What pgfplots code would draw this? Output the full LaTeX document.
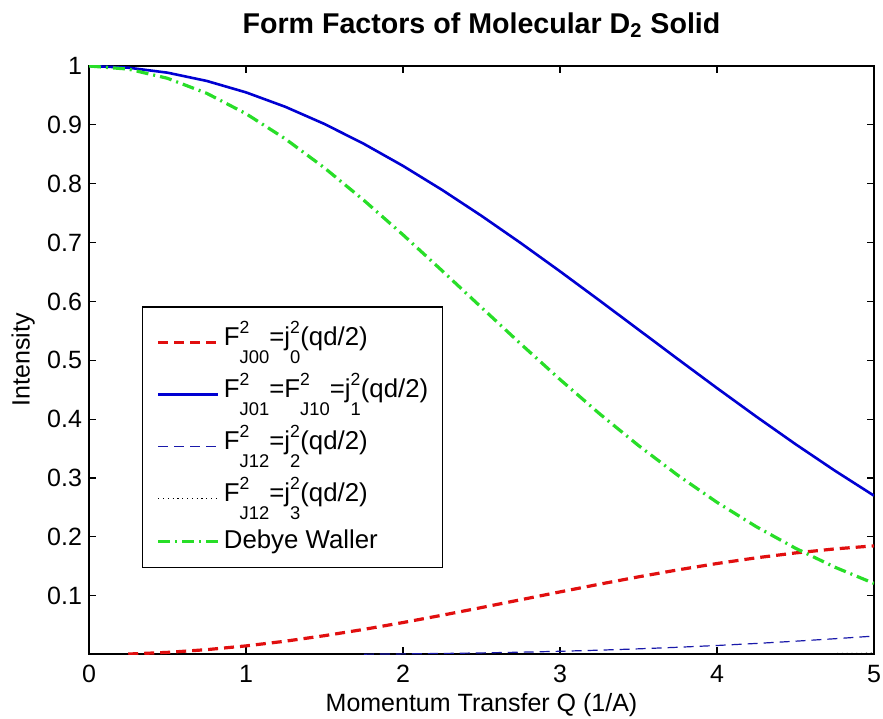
\documentclass[border=0pt]{standalone}
\usepackage{fontspec}
\setmainfont{Liberation Sans}
\usepackage{amsmath}
\usepackage{pgfplots}
\pgfplotsset{compat=1.18}
\definecolor{cred}{RGB}{225,15,15}
\definecolor{cblue}{RGB}{0,0,210}
\definecolor{cdblue}{RGB}{25,25,170}
\definecolor{cgreen}{RGB}{40,222,40}
\newcommand{\SUP}[1]{\raisebox{6pt}{\fontsize{8.8}{10}\selectfont #1}}
\newcommand{\SUB}[1]{\raisebox{-9pt}{\fontsize{9.2}{10}\selectfont #1}}
\newcommand{\Ft}[1]{F\rlap{\SUP{2}}\SUB{#1}}
\newcommand{\jt}[1]{j\rlap{\SUP{2}}\SUB{#1}}
\begin{document}
\begin{tikzpicture}
\begin{axis}[
  name=ax,
  scale only axis,
  width=392.5pt, height=294pt,
  xmin=0, xmax=5, ymin=0.001, ymax=1,
  xtick={0,1,2,3,4,5},
  ytick={0.1,0.2,0.3,0.4,0.5,0.6,0.7,0.8,0.9,1},
  yticklabels={0.1,0.2,0.3,0.4,0.5,0.6,0.7,0.8,0.9,1},
  tick align=inside,
  major tick length=3.5pt,
  axis line style={line width=0.6pt},
  every tick/.style={black, line width=0.6pt},
  /pgf/number format/assume math mode=true,
  tick label style={font=\fontsize{12.5}{15}\selectfont},
  xticklabel style={yshift=-2pt},
  label style={font=\fontsize{12.5}{15}\selectfont},
  title={Form Factors of Molecular D$_{\text{2}}$ Solid},
  title style={font=\fontsize{14.3}{17}\selectfont\bfseries, at={(axis description cs:0.5,1.055)}, anchor=base, yshift=-6pt},
  xlabel={Momentum Transfer Q (1/A)},
  xlabel style={at={(axis description cs:0.5,-0.097)}, anchor=base},
  ylabel={Intensity},
  ylabel style={at={(axis description cs:-0.084,0.5)}, anchor=center},
  legend style={at={(0.0675,0.591)}, anchor=north west, draw=black, line width=0.7pt, fill=white,
    font=\fontsize{12.9}{15}\selectfont, cells={anchor=west}, row sep=0.8pt,
    inner xsep=5pt, inner ysep=5pt, nodes={inner sep=2pt, text depth=}},
  legend image code/.code={\path (0pt,0pt); \draw[#1] (2pt,0pt) -- (32pt,0pt);},
]
\addplot[cred, line width=1.6pt, dash pattern=on 5pt off 3pt] coordinates {
(0.25,0.000949)(0.5,0.003777)(0.75,0.008425)(1,0.014800)(1.25,0.022769)(1.5,0.032172)(1.75,0.042816)(2,0.054485)(2.25,0.066945)(2.5,0.079944)(2.75,0.093225)(3,0.106520)(3.25,0.119569)(3.5,0.132116)(3.75,0.143922)(4,0.154757)(4.25,0.164422)(4.5,0.172738)(4.75,0.179556)(5,0.184759)};
\addlegendentry{\Ft{J00}=\jt{0}(qd/2)}
\addplot[cblue, line width=1.3pt] coordinates {
(0,1)(0.25,0.99715)(0.5,0.98864)(0.75,0.97460)(1,0.95519)(1.25,0.93070)(1.5,0.90145)(1.75,0.86783)(2,0.83029)(2.25,0.78931)(2.5,0.74541)(2.75,0.69917)(3,0.65114)(3.25,0.60192)(3.5,0.55208)(3.75,0.50218)(4,0.45278)(4.25,0.40441)(4.5,0.35753)(4.75,0.31259)(5,0.26999)};
\addlegendentry{\Ft{J01}=\Ft{J10}=\jt{1}(qd/2)}
\addplot[cdblue, line width=0.6pt, dash pattern=on 5pt off 3pt] coordinates {
(1.75,0.000736)(2,0.001232)(2.25,0.001932)(2.5,0.002877)(2.75,0.004104)(3,0.005649)(3.25,0.007540)(3.5,0.009804)(3.75,0.012457)(4,0.015506)(4.25,0.018951)(4.5,0.022778)(4.75,0.026965)(5,0.031479)};
\addlegendentry{\Ft{J12}=\jt{2}(qd/2)}
\addplot[black, line width=0.5pt, dash pattern=on 0.6pt off 1.8pt] coordinates {
(4,0.000745)(4.25,0.001038)(4.5,0.001414)(4.75,0.001886)(5,0.002469)};
\addlegendentry{\Ft{J12}=\jt{3}(qd/2)}
\addplot[cgreen, line width=1.6pt, dash pattern=on 6pt off 2.5pt on 1pt off 2.5pt] coordinates {
(0,1)(0.25,0.99473)(0.5,0.97910)(0.75,0.95358)(1,0.91897)(1.25,0.87631)(1.5,0.82686)(1.75,0.77200)(2,0.71321)(2.25,0.65196)(2.5,0.58972)(2.75,0.52780)(3,0.46745)(3.25,0.40960)(3.5,0.35518)(3.75,0.30475)(4,0.25872)(4.25,0.21736)(4.5,0.18067)(4.75,0.14858)(5,0.12092)};
\addlegendentry{Debye Waller}
\end{axis}
\pgfresetboundingbox
\path ([shift={(-44.5pt,-32pt)}]ax.south west) rectangle ([shift={(4.5pt,33pt)}]ax.north east);
\end{tikzpicture}
\end{document}
